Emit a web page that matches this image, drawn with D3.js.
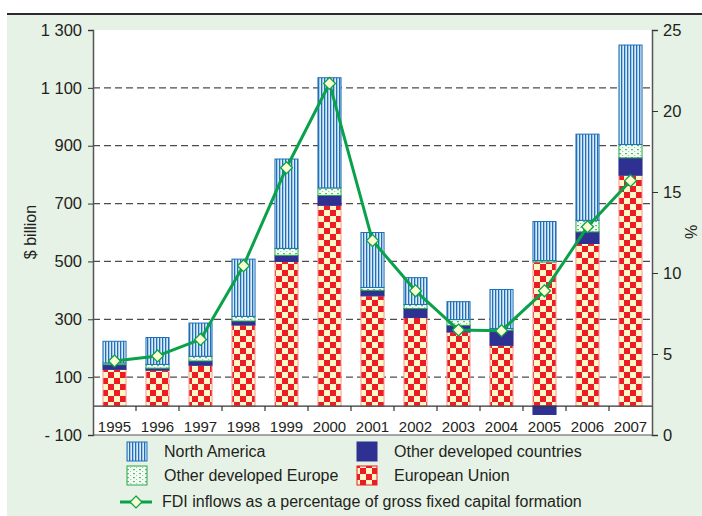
<!DOCTYPE html>
<html>
<head>
<meta charset="utf-8">
<script src="https://cdn.jsdelivr.net/npm/d3@7"></script>
<style>
  body { margin: 0; background: #fff; }
  svg { display: block; font-family: "Liberation Sans", Arial, sans-serif; }
</style>
</head>
<body>
<div id="chart"></div>
<script>
// data
const years = ['1995','1996','1997','1998','1999','2000','2001','2002','2003','2004','2005','2006','2007'];
const europeanUnion   = [127, 124, 141, 280, 500, 694, 381, 306, 256, 210, 498, 562, 798];
const otherDevCountries = [16, 7, 15, 14, 21, 34, 19, 31, 23, 52, -29, 40, 60];
const otherDevEurope  = [6, 13, 16, 16, 24, 26, 10, 14, 20, 6, 5, 40, 46];
const northAmerica    = [75, 93, 115, 198, 309, 381, 190, 93, 62, 135, 135, 298, 344];
const fdiShare        = [4.57, 4.88, 5.9, 10.45, 16.5, 21.7, 12.0, 8.9, 6.48, 6.44, 8.9, 12.86, 15.7];
const leftTicks  = [-100, 100, 300, 500, 700, 900, 1100, 1300];
const rightTicks = [0, 5, 10, 15, 20, 25];

const W = 702, H = 516;
const svg = d3.select('#chart').append('svg').attr('width', W).attr('height', H);

// background panel + top rule
svg.append('rect').attr('x', 7).attr('y', 14).attr('width', W - 7).attr('height', H - 14).attr('fill', '#e6f2e5');
svg.append('line').attr('x1', 7).attr('x2', W).attr('y1', 14).attr('y2', 14).attr('stroke', '#2b2b2b').attr('stroke-width', 2);

const plotL = 93, plotR = 652, plotT = 30, plotB = 435;
svg.append('rect').attr('x', plotL).attr('y', plotT).attr('width', plotR - plotL).attr('height', plotB - plotT).attr('fill', '#fff');

const x = d3.scaleBand().domain(years).range([plotL, plotR]).paddingInner(0.44).paddingOuter(0.22);
const yL = d3.scaleLinear().domain([-100, 1300]).range([plotB, plotT]);
const yR = d3.scaleLinear().domain([0, 25]).range([plotB, plotT]);

// patterns
const defs = svg.append('defs');
const pEU = defs.append('pattern').attr('id', 'pEU').attr('patternUnits', 'userSpaceOnUse').attr('width', 12).attr('height', 12);
pEU.append('rect').attr('width', 12).attr('height', 12).attr('fill', '#fff7c8');
pEU.append('rect').attr('width', 6).attr('height', 6).attr('fill', '#ec1c24');
pEU.append('rect').attr('x', 6).attr('y', 6).attr('width', 6).attr('height', 6).attr('fill', '#ec1c24');

const pNA = defs.append('pattern').attr('id', 'pNA').attr('patternUnits', 'userSpaceOnUse').attr('width', 3).attr('height', 3);
pNA.append('rect').attr('width', 3).attr('height', 3).attr('fill', '#dcebf8');
pNA.append('rect').attr('width', 1.3).attr('height', 3).attr('fill', '#1f70b8');

const pODE = defs.append('pattern').attr('id', 'pODE').attr('patternUnits', 'userSpaceOnUse').attr('width', 6).attr('height', 4);
pODE.append('rect').attr('width', 6).attr('height', 4).attr('fill', '#f4fbf3');
pODE.append('rect').attr('x', 1).attr('y', 1).attr('width', 2).attr('height', 1.2).attr('fill', '#5cb87a');
pODE.append('rect').attr('x', 4).attr('y', 3).attr('width', 1.2).attr('height', 1).attr('fill', '#8fd0a2');

const series = [
  { key: 'eu',  label: 'European Union',            values: europeanUnion,     fill: 'url(#pEU)',  stroke: '#f59a9a' },
  { key: 'odc', label: 'Other developed countries', values: otherDevCountries, fill: '#2e3192',    stroke: '#2e3192' },
  { key: 'ode', label: 'Other developed Europe',    values: otherDevEurope,    fill: 'url(#pODE)', stroke: '#2aa84a' },
  { key: 'na',  label: 'North America',             values: northAmerica,      fill: 'url(#pNA)',  stroke: '#1f70b8' }
];

const rows = years.map((yr, i) => {
  const r = { year: yr };
  series.forEach(s => r[s.key] = s.values[i]);
  return r;
});
const stacked = d3.stack().keys(series.map(s => s.key)).offset(d3.stackOffsetDiverging)(rows);

// gridlines
svg.append('g').selectAll('line')
  .data(leftTicks.filter(t => t > -100 && t < 1300))
  .join('line')
  .attr('x1', plotL).attr('x2', plotR)
  .attr('y1', d => yL(d)).attr('y2', d => yL(d))
  .attr('stroke', '#4d4d4d').attr('stroke-width', 1.3).attr('stroke-dasharray', '7,4');

// bars
stacked.forEach((layer, li) => {
  const s = series[li];
  svg.append('g').selectAll('rect')
    .data(layer)
    .join('rect')
    .attr('x', d => x(d.data.year) + 0.5)
    .attr('width', x.bandwidth() - 1)
    .attr('y', d => yL(Math.max(d[0], d[1])))
    .attr('height', d => Math.abs(yL(d[0]) - yL(d[1])))
    .attr('fill', s.fill)
    .attr('stroke', s.stroke)
    .attr('stroke-width', 1);
});

// zero axis with ticks between bars
svg.append('line').attr('x1', plotL).attr('x2', plotR).attr('y1', yL(0)).attr('y2', yL(0)).attr('stroke', '#333').attr('stroke-width', 1.3);
svg.append('g').selectAll('line')
  .data(years.slice(1))
  .join('line')
  .attr('x1', d => x(d) - x.step() * x.paddingInner() / 2)
  .attr('x2', d => x(d) - x.step() * x.paddingInner() / 2)
  .attr('y1', yL(0)).attr('y2', yL(0) + 5)
  .attr('stroke', '#333').attr('stroke-width', 1.2);

svg.append('g').selectAll('text')
  .data(years)
  .join('text')
  .attr('x', d => x(d) + x.bandwidth() / 2)
  .attr('y', 432)
  .attr('text-anchor', 'middle')
  .attr('font-size', 15)
  .attr('fill', '#231f20')
  .text(d => d);

// frame bottom
svg.append('line').attr('x1', plotL).attr('x2', plotR).attr('y1', plotB).attr('y2', plotB).attr('stroke', '#555').attr('stroke-width', 1);

// left axis
const axL = svg.append('g').attr('transform', `translate(${plotL},0)`)
  .call(d3.axisLeft(yL).tickValues(leftTicks).tickSize(5).tickPadding(6)
    .tickFormat(d => d < 0 ? '- ' + Math.abs(d) : d3.format(',')(d).replace(',', ' ')));
axL.select('.domain').attr('stroke', '#555').attr('stroke-width', 1.5);
axL.selectAll('.tick line').attr('stroke', '#333');
axL.selectAll('text').attr('font-size', 16.5).attr('fill', '#231f20').attr('font-family', '"Liberation Sans", Arial, sans-serif');

// right axis
const axR = svg.append('g').attr('transform', `translate(${plotR},0)`)
  .call(d3.axisRight(yR).tickValues(rightTicks).tickSize(6).tickPadding(5));
axR.select('.domain').attr('stroke', '#555').attr('stroke-width', 1.5);
axR.selectAll('.tick line').attr('stroke', '#333');
axR.selectAll('text').attr('font-size', 16.5).attr('fill', '#231f20').attr('font-family', '"Liberation Sans", Arial, sans-serif');

// axis titles
svg.append('text').attr('transform', 'translate(36,232) rotate(-90)').attr('text-anchor', 'middle')
  .attr('font-size', 16).attr('fill', '#231f20').text('$ billion');
svg.append('text').attr('transform', 'translate(697,232) rotate(-90)').attr('text-anchor', 'middle')
  .attr('font-size', 16).attr('fill', '#231f20').text('%');

// FDI share line
const line = d3.line().x((d, i) => x(years[i]) + x.bandwidth() / 2).y(d => yR(d));
svg.append('path').datum(fdiShare).attr('d', line)
  .attr('fill', 'none').attr('stroke', '#0aa14b').attr('stroke-width', 3).attr('stroke-linejoin', 'round');

const diamond = d3.symbol().type(d3.symbolDiamond2).size(90);
svg.append('g').selectAll('path')
  .data(fdiShare)
  .join('path')
  .attr('transform', (d, i) => `translate(${x(years[i]) + x.bandwidth() / 2},${yR(d)})`)
  .attr('d', diamond)
  .attr('fill', '#fbffd0').attr('stroke', '#0aa14b').attr('stroke-width', 1.3);

// legend
const legendItems = [
  { s: series[3], x: 127, y: 442 },
  { s: series[1], x: 357, y: 442 },
  { s: series[2], x: 127, y: 466 },
  { s: series[0], x: 357, y: 466 }
];
const lg = svg.append('g');
legendItems.forEach(it => {
  lg.append('rect').attr('x', it.x).attr('y', it.y).attr('width', 20).attr('height', 19)
    .attr('fill', it.s.fill).attr('stroke', it.s.key === 'eu' ? '#ec1c24' : it.s.stroke).attr('stroke-width', 1);
  lg.append('text').attr('x', it.x + 37).attr('y', it.y + 15).attr('font-size', 16).attr('fill', '#231f20').text(it.s.label);
});
lg.append('line').attr('x1', 120).attr('x2', 152).attr('y1', 502).attr('y2', 502).attr('stroke', '#0aa14b').attr('stroke-width', 3);
lg.append('path').attr('transform', 'translate(136,502)').attr('d', diamond)
  .attr('fill', '#fbffd0').attr('stroke', '#0aa14b').attr('stroke-width', 1.3);
lg.append('text').attr('x', 162).attr('y', 507).attr('font-size', 16).attr('fill', '#231f20')
  .text('FDI inflows as a percentage of gross fixed capital formation');
</script>
</body>
</html>
